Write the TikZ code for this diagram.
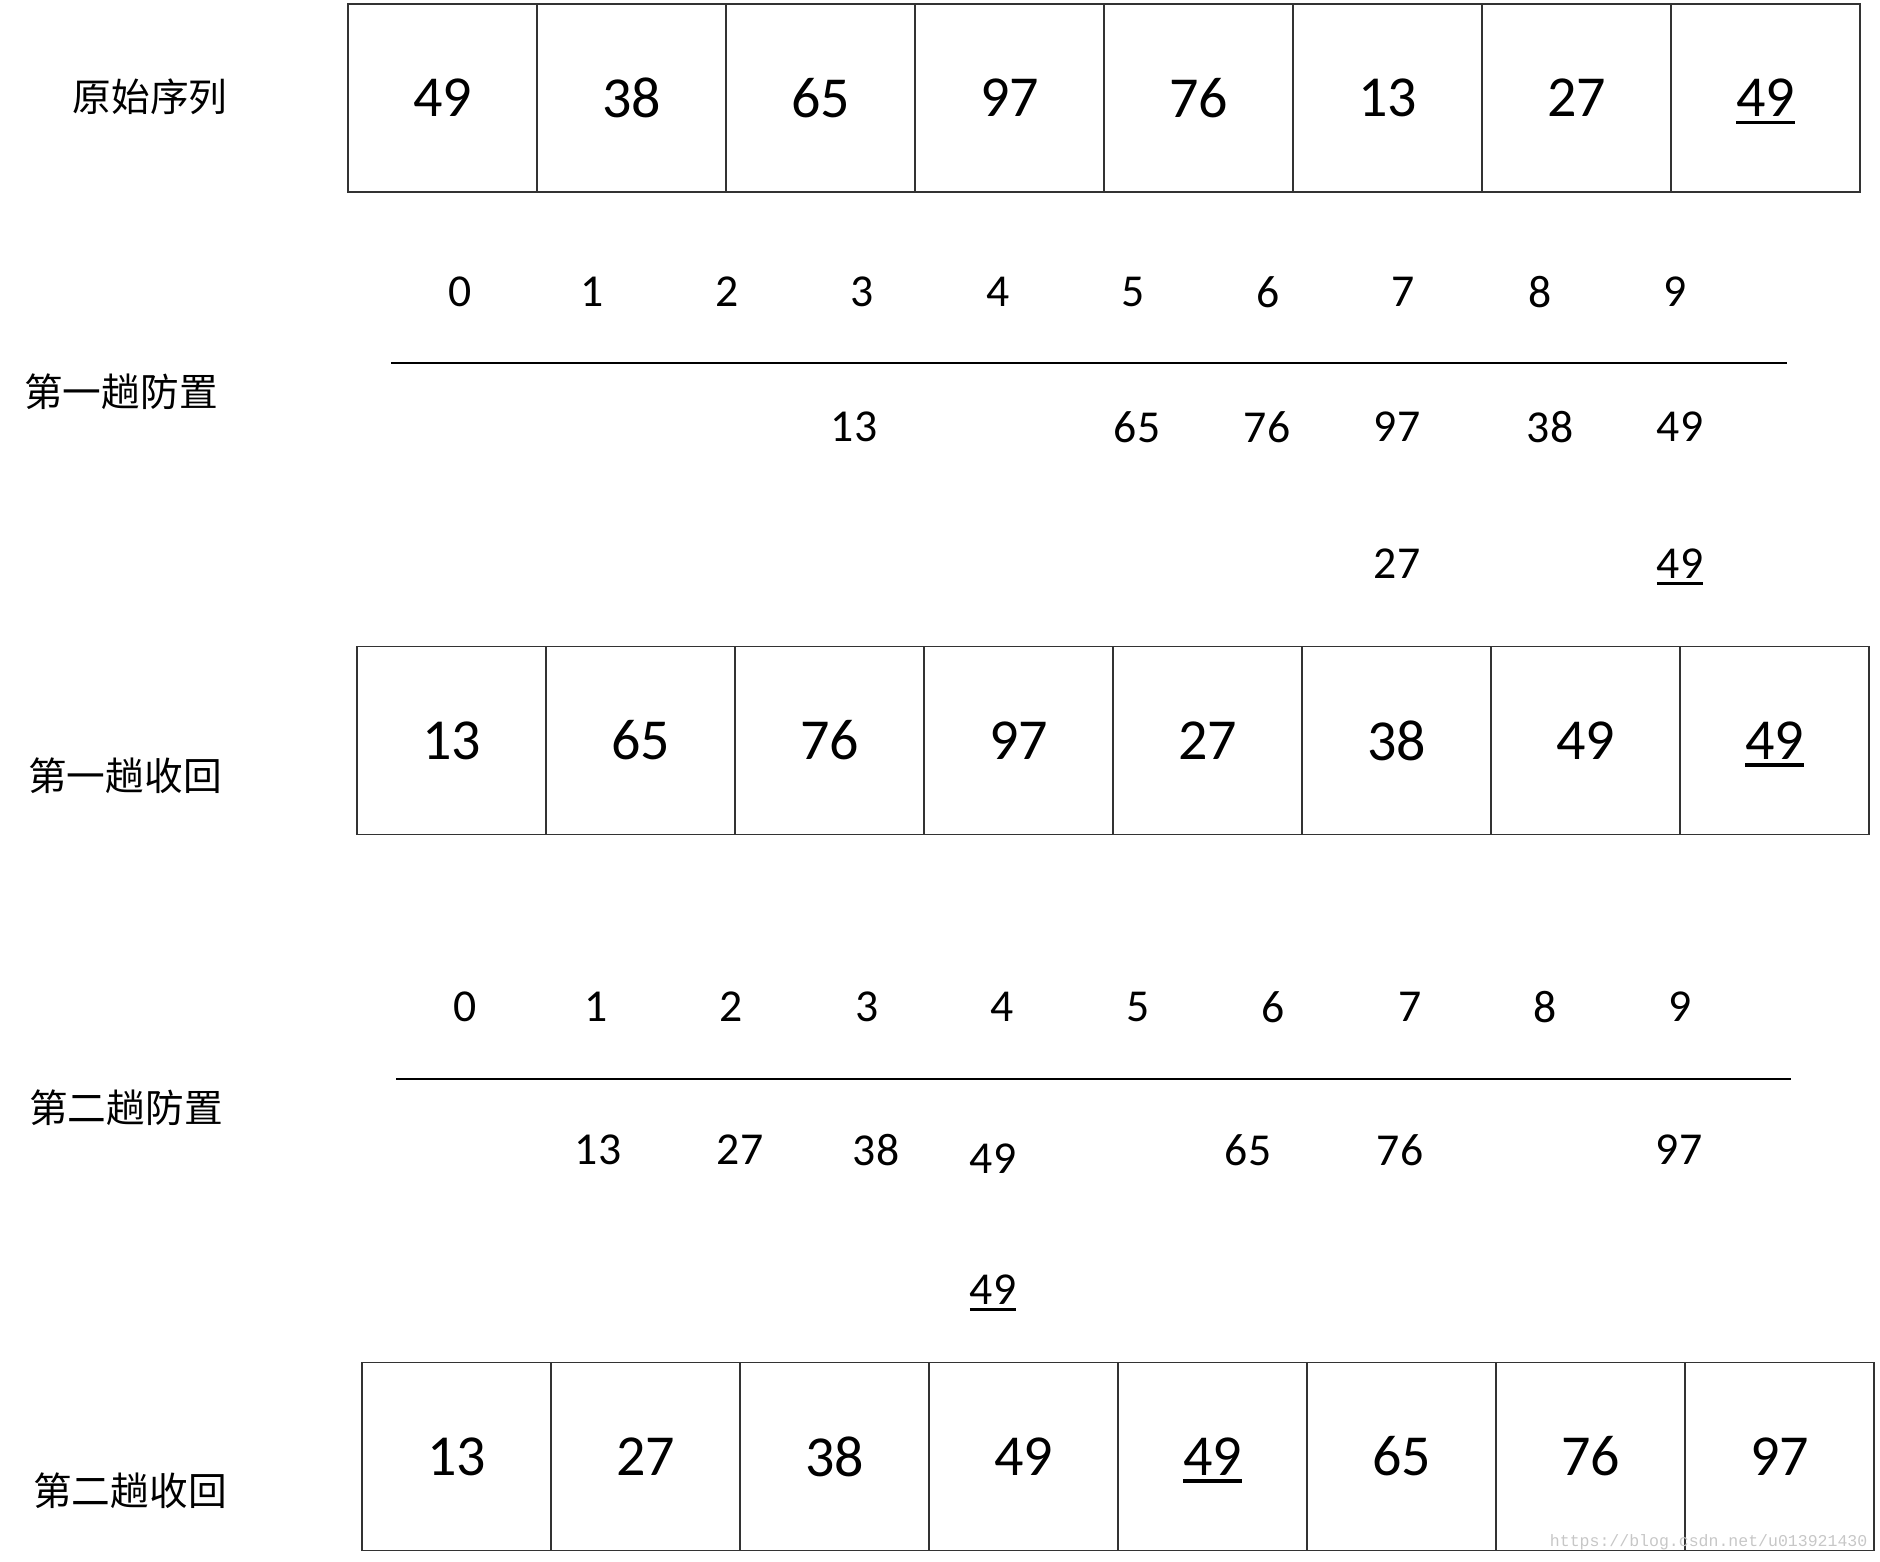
\documentclass[tikz,border=0pt]{standalone}
\usepackage{fontspec}
\setmainfont{Carlito}
\newfontfamily\cjk{Noto Sans CJK SC}
\newfontfamily\wmfont{Liberation Mono}
\usetikzlibrary{positioning}
\newcommand\ulnum[1]{\setbox0\hbox{#1}\rlap{\smash{\rule[-0.13em]{\wd0}{0.06em}}}\box0}

\tikzset{
	cell/.style={draw=black!80, line width=0.45pt, minimum width=1.89cm, minimum height=1.88cm, inner sep=0pt, outer sep=0pt, font=\fontsize{16.5}{20}\selectfont},
	idx/.style={inner sep=0pt, font=\fontsize{13}{16}\selectfont},
	val/.style={inner sep=0pt, font=\fontsize{13}{16}\selectfont},
	lbl/.style={inner sep=0pt, font=\cjk\fontsize{11}{13}\selectfont},
	bucket/.style={line width=0.6pt}
}

\begin{document}
\begin{tikzpicture}[x=0.01cm, y=-0.01cm]
			%%%%% START %%%%%
			\useasboundingbox (0, 0) rectangle (1880, 1561);
			
			% original sequence
			\node[lbl] (lorig) at (150, 97) {原始序列};
			\foreach \v [count=\i] in {49,38,65,97,76,13,27,\ulnum{49}}
				\node[cell] (a\i) at (442.5+189*\i-189, 98) {\v};
			
			% first pass, distribute
			\node[lbl] (ldis1) at (121, 392) {第一趟防置};
			\foreach \x [count=\i from 0] in {460,592,727,862,998,1133,1268,1403,1540,1675}
				\node[idx] (p\i) at (\x, 292) {\i};
			\coordinate (b1s) at (391, 363);
			\coordinate (b1e) at (1787, 363);
			\draw[bucket] (b1s) -- (b1e);
			\node[val] (p3a) at (854, 427) {13};
			\node[val] (p5a) at (1137, 427) {65};
			\node[val] (p6a) at (1267, 427) {76};
			\node[val] (p7a) at (1397, 427) {97};
			\node[val] (p8a) at (1550, 427) {38};
			\node[val] (p9a) at (1680, 427) {49};
			\node[val] (p7b) at (1397, 564) {27};
			\node[val] (p9b) at (1680, 564) {\ulnum{49}};
			
			% first pass, collect
			\node[lbl] (lcol1) at (125, 776) {第一趟收回};
			\foreach \v [count=\i] in {13,65,76,97,27,38,49,\ulnum{49}}
				\node[cell] (b\i) at (451.5+189*\i-189, 740.5) {\v};
			
			% second pass, distribute
			\node[lbl] (ldis2) at (126, 1108) {第二趟防置};
			\foreach \x [count=\i from 0] in {465,596,731,867,1002,1138,1273,1410,1545,1680}
				\node[idx] (q\i) at (\x, 1007) {\i};
			\coordinate (b2s) at (396, 1079);
			\coordinate (b2e) at (1791, 1079);
			\draw[bucket] (b2s) -- (b2e);
			\node[val] (q1a) at (598, 1150) {13};
			\node[val] (q2a) at (740, 1150) {27};
			\node[val] (q3a) at (876, 1150) {38};
			\node[val] (q4a) at (993, 1159) {49};
			\node[val] (q5a) at (1248, 1150) {65};
			\node[val] (q6a) at (1400, 1150) {76};
			\node[val] (q9a) at (1679, 1150) {97};
			\node[val] (q4b) at (993, 1290) {\ulnum{49}};
			
			% second pass, collect
			\node[lbl] (lcol2) at (130, 1491) {第二趟收回};
			\foreach \v [count=\i] in {13,27,38,49,\ulnum{49},65,76,97}
				\node[cell] (c\i) at (456.5+189*\i-189, 1456.5) {\v};
			
			\node[anchor=base east, inner sep=0pt, text=black!22, font=\wmfont\fontsize{4.7}{6}\selectfont] (wm) at (1868, 1546) {https://blog.csdn.net/u013921430};
			%%%%% END %%%%%
\end{tikzpicture}
\end{document}
